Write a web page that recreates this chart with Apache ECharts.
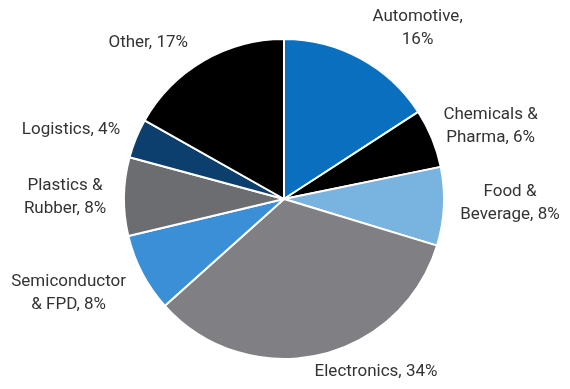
<!DOCTYPE html>
<html>
<head>
<meta charset="utf-8">
<script src="https://cdn.jsdelivr.net/npm/echarts@6/dist/echarts.min.js"></script>
<style>
  html, body { margin: 0; padding: 0; background: #fff; }
  #chart { width: 570px; height: 389px; }
</style>
</head>
<body>
<div id="chart"></div>
<script>
// Share of sales by end market, clockwise from 12 o'clock
const categories = ['Automotive', 'Chemicals &\nPharma', 'Food &\nBeverage', 'Electronics',
                    'Semiconductor\n& FPD', 'Plastics &\nRubber', 'Logistics', 'Other'];
const shares = [16, 6, 8, 34, 8, 8, 4, 17];
const labelTexts = ['Automotive,\n16%', 'Chemicals &\nPharma, 6%', 'Food &\nBeverage, 8%', 'Electronics, 34%',
                    'Semiconductor\n& FPD, 8%', 'Plastics &\nRubber, 8%', 'Logistics, 4%', 'Other, 17%'];

const sliceColors = ['#0a6fbf', '#000000', '#79b3df', '#808084', '#3a8fd6', '#6c6d70', '#0c3f6d', '#000000'];

// label placement around the pie: [angle clockwise from 12 o'clock (deg), distance from centre (px)]
const labelSpots = [[38, 217], [70.6, 219], [91, 226], [152, 196], [246.4, 235], [270.5, 219], [288, 224], [319, 207]];

const CX = 284, CY = 199, R = 160;

const chart = echarts.init(document.getElementById('chart'), null, { renderer: 'canvas' });

chart.setOption({
  animation: false,
  backgroundColor: '#ffffff',
  series: [{
    type: 'pie',
    center: [CX, CY],
    radius: [0, R],
    startAngle: 90,
    clockwise: true,
    avoidLabelOverlap: false,
    itemStyle: { borderColor: '#ffffff', borderWidth: 2 },
    label: {
      show: true,
      position: 'outside',
      formatter: p => labelTexts[p.dataIndex],
      fontFamily: 'Roboto',
      fontSize: 17,
      lineHeight: 23,
      color: '#333333',
      align: 'center'
    },
    labelLine: { show: false },
    labelLayout: function (params) {
      const s = labelSpots[params.dataIndex];
      const a = s[0] * Math.PI / 180;
      return {
        x: CX + s[1] * Math.sin(a),
        y: CY - s[1] * Math.cos(a),
        align: 'center',
        verticalAlign: 'middle'
      };
    },
    data: categories.map((c, i) => ({
      name: c,
      value: shares[i],
      itemStyle: { color: sliceColors[i] }
    }))
  }]
});
</script>
</body>
</html>
